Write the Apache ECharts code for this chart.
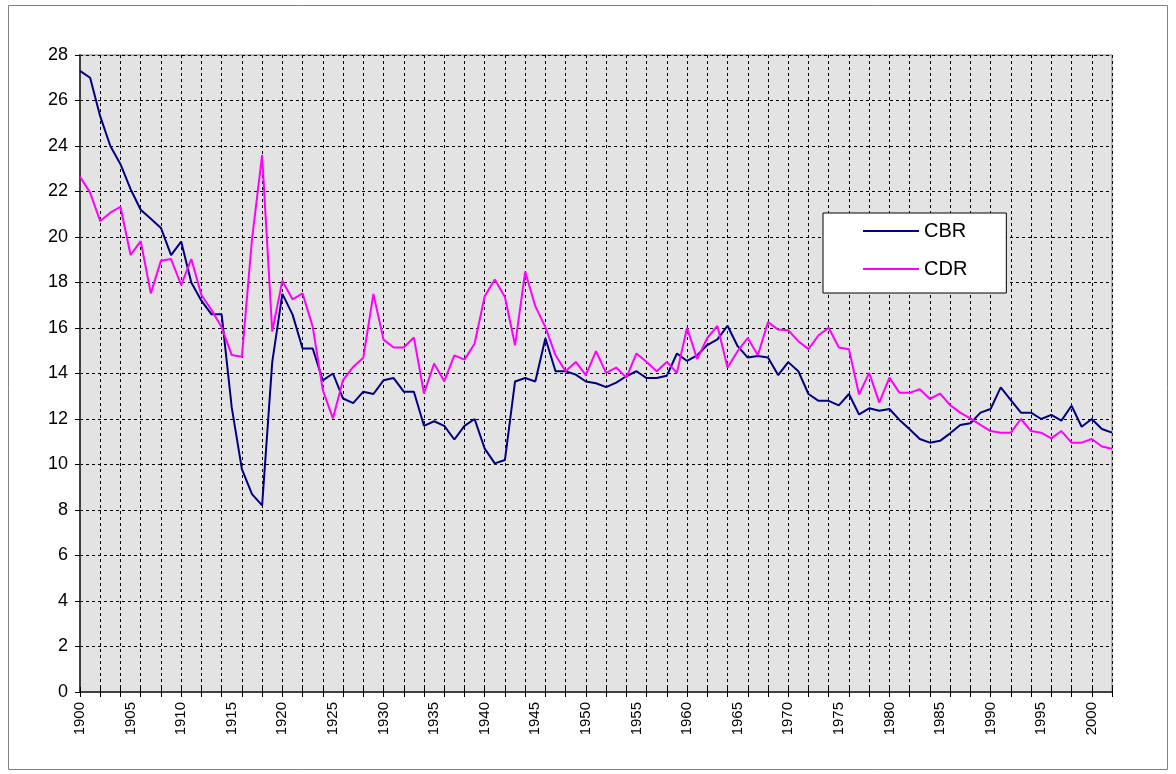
<!DOCTYPE html>
<html>
<head>
<meta charset="utf-8">
<script src="https://cdn.jsdelivr.net/npm/echarts@6/dist/echarts.min.js"></script>
<style>
  html, body { margin: 0; padding: 0; background: #fff; }
  #chart { width: 1176px; height: 774px; }
</style>
</head>
<body>
<div id="chart"></div>
<script>
// years on the category axis
const years = [
  '1900','1901','1902','1903','1904','1905','1906','1907','1908','1909',
  '1910','1911','1912','1913','1914','1915','1916','1917','1918','1919',
  '1920','1921','1922','1923','1924','1925','1926','1927','1928','1929',
  '1930','1931','1932','1933','1934','1935','1936','1937','1938','1939',
  '1940','1941','1942','1943','1944','1945','1946','1947','1948','1949',
  '1950','1951','1952','1953','1954','1955','1956','1957','1958','1959',
  '1960','1961','1962','1963','1964','1965','1966','1967','1968','1969',
  '1970','1971','1972','1973','1974','1975','1976','1977','1978','1979',
  '1980','1981','1982','1983','1984','1985','1986','1987','1988','1989',
  '1990','1991','1992','1993','1994','1995','1996','1997','1998','1999',
  '2000','2001','2002'
];

// crude birth rate
const cbr = [
  27.3, 27.0, 25.3, 24.0, 23.2, 22.1, 21.2, 20.8, 20.4, 19.2,
  19.8, 18.0, 17.2, 16.6, 16.6, 12.5, 9.8, 8.7, 8.2, 14.5,
  17.5, 16.6, 15.1, 15.1, 13.7, 14.0, 12.9, 12.7, 13.2, 13.1,
  13.7, 13.8, 13.2, 13.2, 11.7, 11.9, 11.7, 11.1, 11.7, 12.0,
  10.7, 10.05, 10.2, 13.65, 13.8, 13.65, 15.55, 14.1, 14.1, 13.95,
  13.65, 13.57, 13.4, 13.6, 13.88, 14.1, 13.8, 13.8, 13.9, 14.88,
  14.55, 14.8, 15.25, 15.5, 16.1, 15.2, 14.7, 14.77, 14.7, 13.93,
  14.5, 14.1, 13.1, 12.8, 12.8, 12.6, 13.1, 12.2, 12.47, 12.36,
  12.44, 11.96, 11.55, 11.12, 10.96, 11.04, 11.37, 11.74, 11.81, 12.28,
  12.44, 13.39, 12.83, 12.28, 12.28, 12.0, 12.18, 11.93, 12.58, 11.66,
  12.0, 11.56, 11.4
];

// crude death rate
const cdr = [
  22.65, 21.95, 20.7, 21.07, 21.33, 19.21, 19.82, 17.52, 18.96, 19.03,
  17.89, 19.03, 17.45, 16.79, 16.03, 14.81, 14.74, 19.9, 23.6, 15.84,
  18.08, 17.26, 17.52, 16.06, 13.27, 12.03, 13.71, 14.29, 14.69, 17.5,
  15.49, 15.14, 15.14, 15.58, 13.12, 14.44, 13.66, 14.8, 14.61, 15.31,
  17.4, 18.13, 17.36, 15.24, 18.48, 16.96, 16.04, 14.8, 14.1, 14.51,
  13.93, 14.98, 14.03, 14.26, 13.82, 14.88, 14.51, 14.1, 14.51, 14.03,
  16.01, 14.63, 15.56, 16.09, 14.26, 14.98, 15.56, 14.8, 16.26, 15.93,
  15.9, 15.42, 15.07, 15.68, 16.01, 15.14, 15.07, 13.08, 14.03, 12.72,
  13.82, 13.15, 13.15, 13.31, 12.88, 13.12, 12.61, 12.28, 12.03, 11.74,
  11.47, 11.4, 11.4, 12.0, 11.47, 11.4, 11.15, 11.47, 10.96, 10.96,
  11.12, 10.79, 10.69
];

const chart = echarts.init(document.getElementById('chart'));

const dashed = { color: '#000', width: 1, type: [3, 3] };

chart.setOption({
  animation: false,
  textStyle: { fontFamily: 'Arial, "Liberation Sans", sans-serif' },
  graphic: [{
    type: 'rect',
    shape: { x: 8.5, y: 5.5, width: 1159, height: 764 },
    style: { fill: 'none', stroke: '#808080', lineWidth: 1 },
    silent: true
  }],
  grid: {
    left: 80, top: 55, right: 64, bottom: 82,
    show: true,
    backgroundColor: '#e3e3e3',
    borderColor: '#808080',
    borderWidth: 1
  },
  legend: {
    left: 823, top: 213,
    orient: 'vertical',
    backgroundColor: '#fff',
    borderColor: '#000',
    borderWidth: 1,
    padding: [8, 39, 14, 40],
    itemGap: 18,
    itemWidth: 56,
    itemHeight: 2,
    icon: 'rect',
    textStyle: { fontSize: 20, color: '#000', lineHeight: 20 },
    data: ['CBR', 'CDR']
  },
  xAxis: [
    {
      type: 'category',
      data: years,
      boundaryGap: false,
      position: 'bottom',
      axisLine: { lineStyle: { color: '#404040', width: 2 } },
      axisTick: { interval: 1, length: 5, lineStyle: { color: '#000' } },
      axisLabel: {
        interval: 4, rotate: 90, fontSize: 15, color: '#000', margin: 10
      },
      splitLine: { show: true, interval: 1, lineStyle: dashed }
    },
    {
      // second copy only for the inner half of the tick marks
      type: 'category',
      data: years,
      boundaryGap: false,
      position: 'bottom',
      axisLine: { show: false },
      axisTick: { inside: true, interval: 1, length: 5, lineStyle: { color: '#000' } },
      axisLabel: { show: false },
      splitLine: { show: false }
    }
  ],
  yAxis: {
    type: 'value',
    min: 0, max: 28, interval: 2,
    axisLine: { show: true, lineStyle: { color: '#404040', width: 2 } },
    axisTick: { show: true, length: 5, lineStyle: { color: '#000' } },
    axisLabel: { fontSize: 18, color: '#000', margin: 12 },
    splitLine: { show: true, lineStyle: dashed }
  },
  series: [
    {
      name: 'CBR', type: 'line', data: cbr,
      symbol: 'none',
      lineStyle: { color: '#000080', width: 2 },
      itemStyle: { color: '#000080' }
    },
    {
      name: 'CDR', type: 'line', data: cdr,
      symbol: 'none',
      lineStyle: { color: '#ff00ff', width: 2 },
      itemStyle: { color: '#ff00ff' }
    }
  ]
});
</script>
</body>
</html>
